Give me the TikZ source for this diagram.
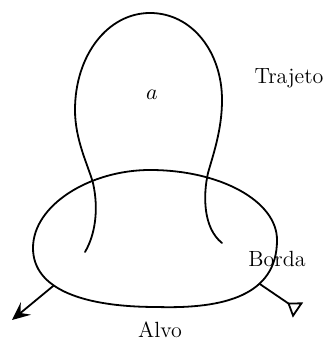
\documentclass[tikz,border=0pt]{standalone}
\usetikzlibrary{arrows.meta}
\begin{document}
\begin{tikzpicture}[x=0.5pt,y=-0.5pt,
  curve/.style={line width=0.9pt,line cap=round},
  lbl/.style={font=\fontsize{11}{13}\selectfont,inner sep=0pt}]
\useasboundingbox (0,0) rectangle (326,340);
% border (closed oval)
\draw[curve] (150,170) .. controls (220,170) and (277,201) .. (277,240)
  .. controls (277,295) and (225,309) .. coordinate[pos=0.35] (r0) (157,307)
  .. controls (85,307) and (33,290) .. coordinate[pos=0.62] (l0) (33,248)
  .. controls (33,205) and (90,170) .. (150,170) -- cycle;
% trajectory loop
\draw[curve] (85,252) .. controls (95,235) and (99,210) .. (93,183)
  .. controls (88,165) and (75,140) .. (75,110)
  .. controls (75,55) and (108,13) .. (150,13)
  .. controls (192,13) and (222,52) .. (222,100)
  .. controls (222,130) and (213,155) .. (208,173)
  .. controls (203,195) and (203,228) .. (222,243);
\coordinate (l1) at (12,320);
\coordinate (r1) at (298,310);
\draw[curve,-{Stealth[length=9pt,width=8pt,inset=3.5pt]}] (l0) -- (l1);
\draw[curve,-{Triangle[open,reversed,length=6.5pt,width=9pt,line width=0.9pt]}] (r0) -- (r1);
\node[lbl] (a) at (152,95) {$a$};
\node[lbl] (traj) at (289,78) {Trajeto};
\node[lbl] (borda) at (277,259) {Borda};
\node[lbl] (alvo) at (160,330) {Alvo};
\end{tikzpicture}
\end{document}
